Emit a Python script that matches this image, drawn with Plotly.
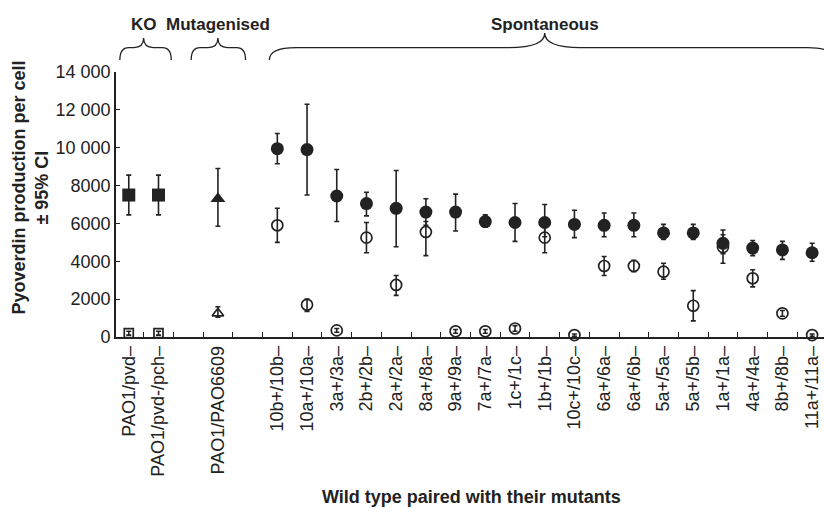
import plotly.graph_objects as go

# ---------------- data ----------------
groups = ["KO", "Mutagenised", "Spontaneous"]
group_members = [
    ["PAO1/pvd–", "PAO1/pvd-/pch–"],
    ["PAO1/PAO6609"],
    ["10b+/10b–", "10a+/10a–", "3a+/3a–", "2b+/2b–", "2a+/2a–", "8a+/8a–",
     "9a+/9a–", "7a+/7a–", "1c+/1c–", "1b+/1b–", "10c+/10c–", "6a+/6a–",
     "6a+/6b–", "5a+/5a–", "5a+/5b–", "1a+/1a–", "4a+/4a–", "8b+/8b–",
     "11a+/11a–"],
]

# wild type (filled) : value, upper CI, lower CI
wt_val = [7500, 7500, 7300, 9950, 9900, 7450, 7050, 6800, 6600, 6600, 6100,
          6050, 6050, 5950, 5900, 5900, 5500, 5500, 4950, 4700, 4600, 4450]
wt_hi = [8550, 8550, 8900, 10750, 12300, 8850, 7650, 8800, 7300, 7550, 6450,
         7050, 7000, 6700, 6550, 6550, 5950, 5950, 5650, 5100, 5050, 4950]
wt_lo = [6450, 6450, 5850, 9150, 7500, 6100, 6400, 4770, 5900, 5600, 5800,
         5050, 5300, 5250, 5300, 5300, 5150, 5150, 4400, 4300, 4100, 4000]

# mutants (open) : value, upper CI, lower CI
mu_val = [200, 200, 1250, 5900, 1700, 350, 5250, 2750, 5550, 300, 300,
          450, 5250, 100, 3750, 3750, 3450, 1650, 4750, 3100, 1250, 100]
mu_hi = [300, 300, 1600, 6800, 2000, 450, 6050, 3250, 6100, 400, 400,
         600, 6000, 160, 4250, 4050, 3900, 2450, 5400, 3550, 1400, 160]
mu_lo = [100, 100, 1050, 5000, 1350, 250, 4450, 2200, 4300, 200, 200,
         300, 4450, 40, 3250, 3450, 3050, 850, 3900, 2650, 1100, 40]

y_tickvals = [0, 2000, 4000, 6000, 8000, 10000, 12000, 14000]
y_ticktext = ["0", "2000", "4000", "6000", "8000", "10 000", "12 000", "14 000"]

# ---------------- layout helpers ----------------
filled_symbols = ["square", "triangle-up", "circle"]
open_symbols = ["square-open", "triangle-up-open", "circle-open"]
filled_sizes = [13, 13, 13]
open_sizes = [9, 10, 11]
# brace geometry per group: (left pad, right pad, end radius, mid radius, peak)
brace_geom = [(0.3, 0.43, 0.3, 0.33, 1.128),
              (0.9, 0.93, 0.3, 0.33, 1.128),
              (0.27, 0.75, 0.9, 1.2, 1.147)]

INK = "#222222"

labels, xpos, gidx = [], [], []
pos = 0
spans = []
for gi, members in enumerate(group_members):
    start = pos
    for m in members:
        labels.append(m)
        xpos.append(pos)
        gidx.append(gi)
        pos += 1
    spans.append((start, pos - 1))
    pos += 1  # gap between groups

fig = go.Figure()

for gi in range(len(groups)):
    idx = [i for i, g in enumerate(gidx) if g == gi]
    xs = [xpos[i] for i in idx]
    # mutants (open)
    fig.add_trace(go.Scatter(
        x=xs, y=[mu_val[i] for i in idx], mode="markers",
        marker=dict(symbol=open_symbols[gi], size=open_sizes[gi], color=INK,
                    line=dict(color=INK, width=1.7)),
        error_y=dict(type="data", symmetric=False,
                     array=[mu_hi[i] - mu_val[i] for i in idx],
                     arrayminus=[mu_val[i] - mu_lo[i] for i in idx],
                     color=INK, thickness=1.6, width=2.5),
        cliponaxis=False, showlegend=False, hoverinfo="skip"))
    # wild types (filled)
    fig.add_trace(go.Scatter(
        x=xs, y=[wt_val[i] for i in idx], mode="markers",
        marker=dict(symbol=filled_symbols[gi], size=filled_sizes[gi], color=INK,
                    line=dict(color=INK, width=0)),
        error_y=dict(type="data", symmetric=False,
                     array=[wt_hi[i] - wt_val[i] for i in idx],
                     arrayminus=[wt_val[i] - wt_lo[i] for i in idx],
                     color=INK, thickness=1.6, width=2.5),
        cliponaxis=False, showlegend=False, hoverinfo="skip"))

# between-category ticks
half_ticks = [p + 0.5 for p in range(pos - 2)]

# braces
yE, yH = 1.045, 1.092
shapes = []
annotations = []
for gi, (s, e) in enumerate(spans):
    lp, rp, re_, rm, yP = brace_geom[gi]
    x0 = s - lp
    x1 = e + rp
    xm = (s + e) / 2
    path = (f"M {x0},{yE} Q {x0},{yH} {x0 + re_},{yH} L {xm - rm},{yH} "
            f"Q {xm},{yH} {xm},{yP} Q {xm},{yH} {xm + rm},{yH} "
            f"L {x1 - re_},{yH} Q {x1},{yH} {x1},{yE}")
    shapes.append(dict(type="path", path=path, xref="x", yref="paper",
                       line=dict(color=INK, width=1.3)))
    annotations.append(dict(text=f"<b>{groups[gi]}</b>", x=xm, y=1.181,
                            xref="x", yref="paper", showarrow=False,
                            xanchor="center", yanchor="middle",
                            font=dict(size=17, color=INK)))

annotations.append(dict(
    text="<b>Pyoverdin production per cell<br>± 95% CI</b>",
    x=-0.121, y=0.565, xref="paper", yref="paper", textangle=-90,
    showarrow=False, xanchor="center", yanchor="middle",
    font=dict(size=18, color=INK)))
annotations.append(dict(
    text="<b>Wild type paired with their mutants</b>",
    x=0.502, y=-0.603, xref="paper", yref="paper", showarrow=False,
    xanchor="center", yanchor="middle", font=dict(size=18, color=INK)))

fig.update_layout(
    width=824, height=514,
    margin=dict(l=116, r=0, t=72, b=177),
    paper_bgcolor="white", plot_bgcolor="white",
    font=dict(family="Liberation Sans, Arial, sans-serif", size=18, color=INK),
    shapes=shapes, annotations=annotations,
    xaxis=dict(range=[-0.43, 23.4], showgrid=False, zeroline=False,
               showline=True, linecolor=INK, linewidth=1.6,
               tickmode="array", tickvals=xpos, ticktext=labels,
               tickangle=-90, ticks="", tickfont=dict(size=18),
               ticklabeloverflow="allow", automargin=False,
               minor=dict(tickmode="array", tickvals=half_ticks, ticks="inside",
                          ticklen=5, tickwidth=1.4, tickcolor=INK)),
    yaxis=dict(range=[0, 14000], showgrid=False, zeroline=False,
               showline=True, linecolor=INK, linewidth=1.6,
               tickmode="array", tickvals=y_tickvals, ticktext=y_ticktext,
               ticks="inside", ticklen=4, tickwidth=1.4, tickcolor=INK,
               tickfont=dict(size=18), automargin=False),
)

fig.write_html(
    "out.html",
    config={"displayModeBar": False},
    post_script="document.body.style.margin='0';document.body.style.overflow='hidden';",
)
